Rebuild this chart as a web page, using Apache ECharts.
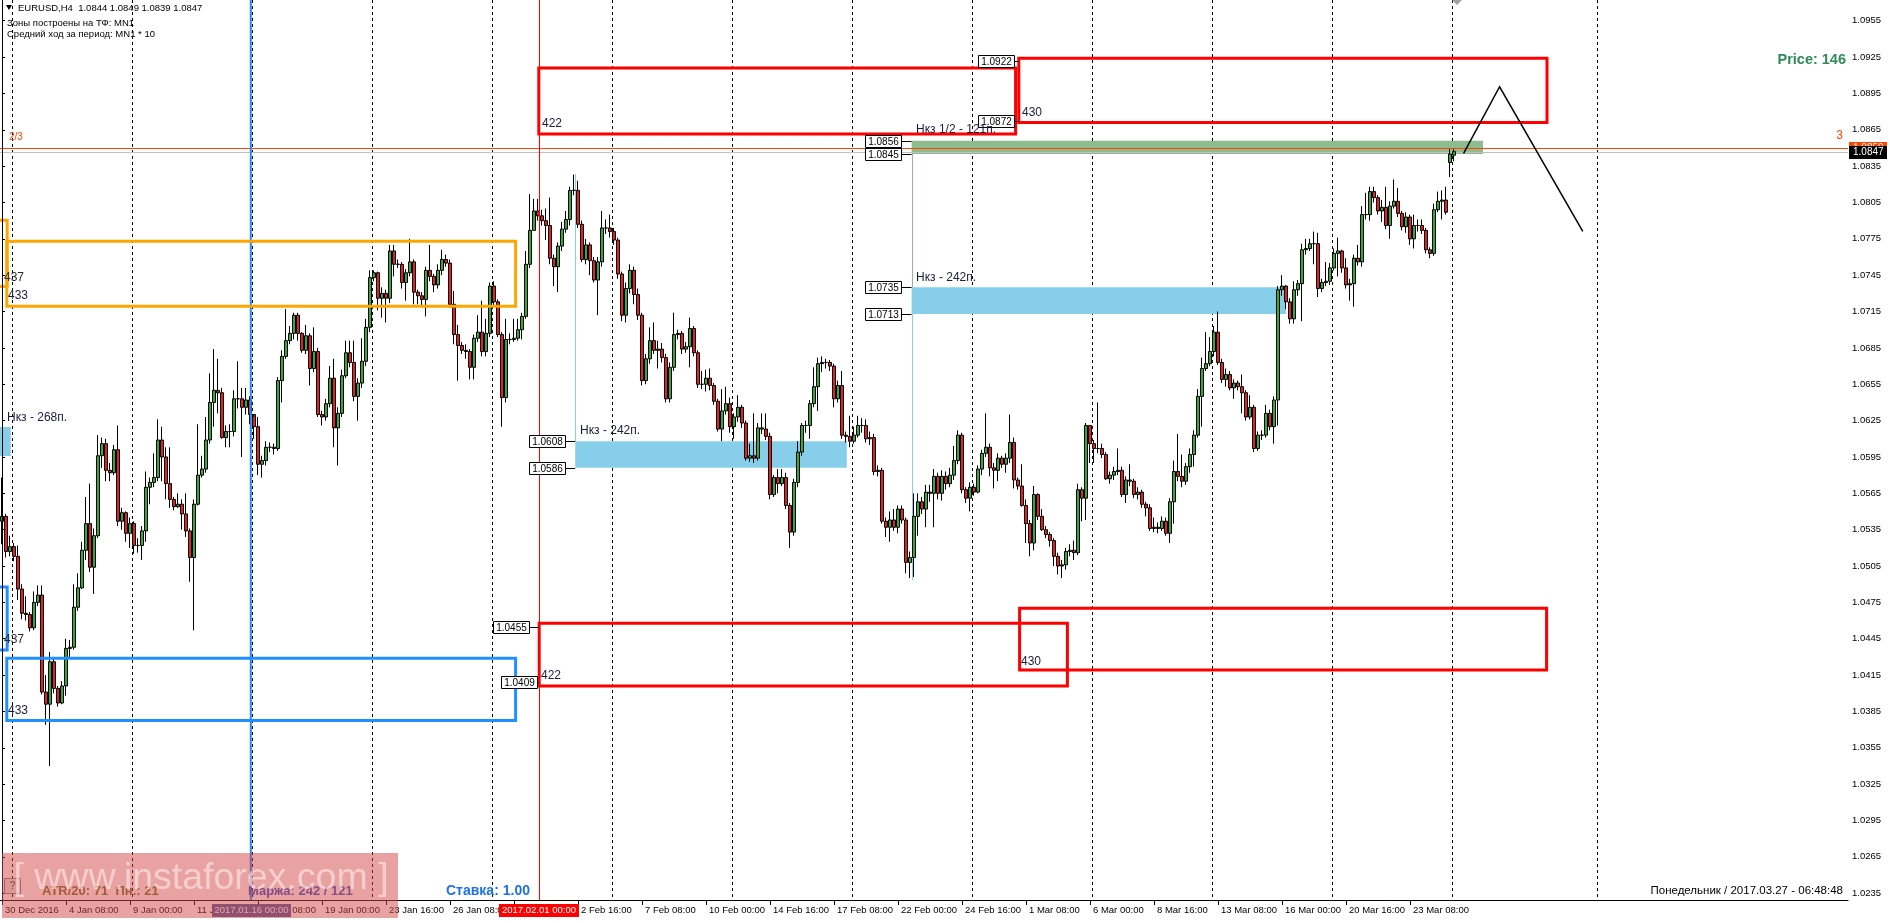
<!DOCTYPE html>
<html><head><meta charset="utf-8">
<script src="https://cdn.jsdelivr.net/npm/echarts@6/dist/echarts.min.js"></script>
<style>html,body{margin:0;padding:0;background:#fff;overflow:hidden}#c{width:1890px;height:923px}</style>
</head><body><div id="c"></div>
<script>
// ---------------- DATA ----------------
const firstOpen = 1.0542;
const openOverrides = [[362, 1.0838], [363, 1.0844]]; // weekend gap / last bar opens
const closes = [
1.0546,1.0517,1.0521,1.0513,1.0486,1.0466,1.0465,1.0454,1.0475,1.0481,
1.0401,1.0391,1.0426,1.0404,1.0392,1.0406,1.0437,1.0438,1.0471,1.0487,
1.0518,1.0540,1.0504,1.0530,1.0596,1.0606,1.0584,1.0582,1.0601,1.0542,
1.0549,1.0532,1.0540,1.0522,1.0522,1.0534,1.0570,1.0574,1.0578,1.0609,
1.0595,1.0573,1.0560,1.0554,1.0556,1.0548,1.0534,1.0512,1.0556,1.0580,
1.0585,1.0609,1.0640,1.0650,1.0648,1.0611,1.0616,1.0616,1.0643,1.0643,
1.0636,1.0642,1.0630,1.0620,1.0589,1.0592,1.0603,1.0603,1.0602,1.0658,
1.0678,1.0691,1.0697,1.0712,1.0697,1.0683,1.0695,1.0668,1.0682,1.0630,
1.0628,1.0639,1.0660,1.0619,1.0631,1.0662,1.0681,1.0673,1.0645,1.0656,
1.0674,1.0702,1.0743,1.0747,1.0726,1.0730,1.0726,1.0765,1.0754,1.0754,
1.0739,1.0747,1.0756,1.0731,1.0728,1.0725,1.0749,1.0744,1.0737,1.0749,
1.0758,1.0755,1.0721,1.0696,1.0687,1.0683,1.0682,1.0669,1.0693,1.0698,
1.0682,1.0697,1.0736,1.0723,1.0696,1.0644,1.0692,1.0692,1.0693,1.0700,
1.0711,1.0754,1.0782,1.0798,1.0794,1.0790,1.0786,1.0759,1.0752,1.0769,
1.0783,1.0791,1.0815,1.0815,1.0787,1.0758,1.0770,1.0757,1.0741,1.0756,
1.0784,1.0784,1.0781,1.0774,1.0746,1.0712,1.0734,1.0749,1.0729,1.0712,
1.0658,1.0676,1.0691,1.0683,1.0684,1.0677,1.0643,1.0669,1.0696,1.0697,
1.0684,1.0686,1.0701,1.0681,1.0655,1.0655,1.0660,1.0654,1.0641,1.0618,
1.0633,1.0639,1.0620,1.0628,1.0636,1.0623,1.0594,1.0596,1.0594,1.0619,
1.0618,1.0612,1.0564,1.0578,1.0573,1.0578,1.0555,1.0533,1.0574,1.0599,
1.0621,1.0621,1.0639,1.0653,1.0672,1.0673,1.0673,1.0670,1.0643,1.0654,
1.0613,1.0612,1.0608,1.0613,1.0621,1.0621,1.0610,1.0611,1.0583,1.0584,
1.0542,1.0537,1.0543,1.0537,1.0552,1.0543,1.0508,1.0512,1.0546,1.0558,
1.0552,1.0566,1.0565,1.0579,1.0565,1.0579,1.0573,1.0580,1.0592,1.0613,
1.0568,1.0561,1.0570,1.0566,1.0585,1.0598,1.0603,1.0586,1.0584,1.0594,
1.0589,1.0594,1.0607,1.0576,1.0571,1.0555,1.0540,1.0524,1.0564,1.0546,
1.0535,1.0531,1.0526,1.0513,1.0505,1.0506,1.0517,1.0518,1.0516,1.0568,
1.0561,1.0621,1.0606,1.0602,1.0602,1.0597,1.0577,1.0580,1.0583,1.0584,
1.0564,1.0576,1.0575,1.0564,1.0566,1.0556,1.0553,1.0536,1.0537,1.0536,
1.0542,1.0532,1.0558,1.0583,1.0579,1.0575,1.0587,1.0597,1.0613,1.0645,
1.0668,1.0672,1.0682,1.0698,1.0673,1.0659,1.0663,1.0652,1.0656,1.0653,
1.0648,1.0628,1.0636,1.0602,1.0613,1.0613,1.0631,1.0620,1.0642,1.0733,
1.0736,1.0723,1.0709,1.0733,1.0738,1.0766,1.0767,1.0771,1.0771,1.0734,
1.0739,1.0740,1.0751,1.0763,1.0765,1.0751,1.0737,1.0738,1.0759,1.0756,
1.0795,1.0795,1.0814,1.0809,1.0798,1.0801,1.0786,1.0802,1.0806,1.0796,
1.0785,1.0793,1.0775,1.0786,1.0786,1.0782,1.0766,1.0763,1.0799,1.0806,
1.0807,1.0797,1.0845,1.0847];
const highs = [
1.0578,1.0548,1.0530,1.0524,1.0522,1.0490,1.0480,1.0467,1.0484,1.0489,
1.0489,1.0415,1.0434,1.0430,1.0406,1.0410,1.0445,1.0444,1.0490,1.0499,
1.0525,1.0562,1.0573,1.0536,1.0613,1.0611,1.0610,1.0590,1.0605,1.0621,
1.0553,1.0550,1.0545,1.0542,1.0528,1.0538,1.0583,1.0578,1.0598,1.0626,
1.0620,1.0603,1.0603,1.0562,1.0565,1.0560,1.0565,1.0536,1.0560,1.0622,
1.0596,1.0628,1.0664,1.0684,1.0676,1.0652,1.0621,1.0622,1.0650,1.0674,
1.0652,1.0652,1.0645,1.0628,1.0628,1.0596,1.0608,1.0607,1.0606,1.0661,
1.0683,1.0717,1.0703,1.0714,1.0714,1.0698,1.0704,1.0697,1.0702,1.0685,
1.0633,1.0643,1.0670,1.0676,1.0636,1.0667,1.0691,1.0691,1.0691,1.0660,
1.0693,1.0709,1.0749,1.0749,1.0748,1.0735,1.0733,1.0770,1.0770,1.0758,
1.0756,1.0750,1.0775,1.0758,1.0733,1.0731,1.0752,1.0770,1.0746,1.0754,
1.0766,1.0762,1.0758,1.0732,1.0704,1.0690,1.0688,1.0684,1.0696,1.0712,
1.0724,1.0709,1.0739,1.0740,1.0725,1.0698,1.0709,1.0697,1.0709,1.0709,
1.0714,1.0765,1.0812,1.0808,1.0808,1.0799,1.0800,1.0809,1.0762,1.0772,
1.0789,1.0798,1.0818,1.0828,1.0823,1.0790,1.0775,1.0772,1.0760,1.0760,
1.0798,1.0791,1.0795,1.0784,1.0776,1.0748,1.0739,1.0754,1.0752,1.0734,
1.0714,1.0680,1.0702,1.0706,1.0691,1.0689,1.0680,1.0673,1.0714,1.0700,
1.0699,1.0690,1.0710,1.0703,1.0683,1.0666,1.0667,1.0668,1.0656,1.0643,
1.0651,1.0653,1.0644,1.0631,1.0646,1.0638,1.0625,1.0606,1.0631,1.0623,
1.0631,1.0631,1.0615,1.0580,1.0585,1.0585,1.0582,1.0557,1.0577,1.0608,
1.0623,1.0625,1.0642,1.0669,1.0677,1.0678,1.0676,1.0675,1.0672,1.0658,
1.0666,1.0616,1.0629,1.0620,1.0629,1.0627,1.0626,1.0616,1.0614,1.0588,
1.0586,1.0545,1.0550,1.0552,1.0555,1.0555,1.0545,1.0517,1.0565,1.0565,
1.0562,1.0572,1.0572,1.0585,1.0582,1.0584,1.0583,1.0586,1.0604,1.0617,
1.0615,1.0570,1.0574,1.0573,1.0588,1.0601,1.0631,1.0606,1.0590,1.0598,
1.0596,1.0598,1.0630,1.0611,1.0578,1.0589,1.0560,1.0543,1.0571,1.0565,
1.0552,1.0538,1.0533,1.0528,1.0516,1.0510,1.0520,1.0523,1.0526,1.0573,
1.0570,1.0623,1.0621,1.0609,1.0640,1.0606,1.0599,1.0583,1.0587,1.0602,
1.0587,1.0579,1.0589,1.0577,1.0570,1.0568,1.0558,1.0556,1.0545,1.0541,
1.0546,1.0545,1.0561,1.0592,1.0614,1.0597,1.0590,1.0602,1.0617,1.0651,
1.0677,1.0698,1.0694,1.0703,1.0715,1.0676,1.0668,1.0666,1.0659,1.0658,
1.0663,1.0650,1.0646,1.0638,1.0616,1.0617,1.0638,1.0634,1.0645,1.0736,
1.0745,1.0737,1.0726,1.0740,1.0741,1.0771,1.0775,1.0775,1.0781,1.0780,
1.0742,1.0756,1.0755,1.0767,1.0776,1.0766,1.0759,1.0742,1.0762,1.0770,
1.0802,1.0813,1.0818,1.0818,1.0811,1.0807,1.0818,1.0806,1.0824,1.0817,
1.0798,1.0797,1.0795,1.0795,1.0791,1.0791,1.0784,1.0768,1.0804,1.0814,
1.0815,1.0818,1.0849,1.0849];
const lows = [
1.0523,1.0512,1.0513,1.0509,1.0477,1.0461,1.0460,1.0451,1.0452,1.0472,
1.0399,1.0374,1.0340,1.0400,1.0389,1.0391,1.0398,1.0429,1.0436,1.0468,
1.0486,1.0510,1.0500,1.0482,1.0528,1.0586,1.0575,1.0575,1.0580,1.0538,
1.0535,1.0525,1.0520,1.0515,1.0516,1.0510,1.0525,1.0556,1.0570,1.0575,
1.0575,1.0560,1.0553,1.0551,1.0553,1.0535,1.0529,1.0492,1.0452,1.0555,
1.0578,1.0582,1.0606,1.0620,1.0631,1.0610,1.0603,1.0603,1.0612,1.0635,
1.0595,1.0630,1.0622,1.0610,1.0580,1.0578,1.0588,1.0599,1.0597,1.0600,
1.0640,1.0676,1.0688,1.0692,1.0691,1.0681,1.0680,1.0654,1.0665,1.0628,
1.0621,1.0625,1.0636,1.0603,1.0588,1.0628,1.0660,1.0669,1.0641,1.0625,
1.0652,1.0670,1.0698,1.0740,1.0716,1.0710,1.0706,1.0722,1.0744,1.0751,
1.0734,1.0724,1.0744,1.0721,1.0721,1.0720,1.0711,1.0740,1.0731,1.0734,
1.0745,1.0752,1.0718,1.0688,1.0658,1.0680,1.0676,1.0659,1.0659,1.0690,
1.0678,1.0678,1.0694,1.0720,1.0694,1.0620,1.0640,1.0688,1.0690,1.0691,
1.0692,1.0709,1.0751,1.0782,1.0790,1.0786,1.0774,1.0754,1.0736,1.0731,
1.0765,1.0780,1.0786,1.0811,1.0784,1.0756,1.0754,1.0745,1.0739,1.0712,
1.0752,1.0779,1.0776,1.0770,1.0742,1.0707,1.0706,1.0730,1.0721,1.0708,
1.0654,1.0655,1.0672,1.0680,1.0668,1.0673,1.0640,1.0640,1.0666,1.0692,
1.0680,1.0681,1.0669,1.0678,1.0652,1.0651,1.0649,1.0650,1.0638,1.0616,
1.0608,1.0630,1.0615,1.0610,1.0624,1.0619,1.0592,1.0591,1.0590,1.0592,
1.0614,1.0609,1.0560,1.0562,1.0565,1.0571,1.0552,1.0520,1.0530,1.0570,
1.0596,1.0615,1.0610,1.0636,1.0633,1.0665,1.0668,1.0666,1.0636,1.0640,
1.0610,1.0607,1.0603,1.0606,1.0611,1.0615,1.0607,1.0605,1.0580,1.0579,
1.0540,1.0529,1.0525,1.0534,1.0532,1.0540,1.0499,1.0495,1.0496,1.0530,
1.0548,1.0537,1.0558,1.0537,1.0560,1.0559,1.0568,1.0570,1.0576,1.0589,
1.0565,1.0557,1.0550,1.0563,1.0565,1.0580,1.0595,1.0579,1.0569,1.0575,
1.0586,1.0582,1.0590,1.0569,1.0568,1.0554,1.0524,1.0513,1.0518,1.0543,
1.0534,1.0528,1.0521,1.0505,1.0498,1.0495,1.0502,1.0513,1.0510,1.0514,
1.0542,1.0543,1.0590,1.0590,1.0598,1.0594,1.0576,1.0573,1.0576,1.0580,
1.0562,1.0557,1.0571,1.0561,1.0560,1.0553,1.0546,1.0534,1.0533,1.0532,
1.0534,1.0530,1.0524,1.0540,1.0575,1.0570,1.0572,1.0582,1.0587,1.0611,
1.0620,1.0666,1.0670,1.0678,1.0671,1.0656,1.0653,1.0650,1.0643,1.0650,
1.0631,1.0625,1.0626,1.0599,1.0600,1.0609,1.0611,1.0617,1.0606,1.0621,
1.0728,1.0717,1.0705,1.0705,1.0728,1.0707,1.0762,1.0765,1.0754,1.0727,
1.0731,1.0736,1.0737,1.0749,1.0744,1.0747,1.0734,1.0724,1.0719,1.0753,
1.0752,1.0791,1.0790,1.0805,1.0795,1.0789,1.0783,1.0775,1.0800,1.0793,
1.0782,1.0780,1.0770,1.0767,1.0781,1.0779,1.0763,1.0759,1.0761,1.0797,
1.0791,1.0795,1.0826,1.0839];

// time-scale labels, one every 16 H4 bars starting at bar 0
const xLabels = ['30 Dec 2016','4 Jan 08:00','9 Jan 00:00','11 Jan 16:00','16 Jan 08:00','19 Jan 00:00',
 '23 Jan 16:00','26 Jan 08:00','31 Jan 00:00','2 Feb 16:00','7 Feb 08:00','10 Feb 00:00','14 Feb 16:00',
 '17 Feb 08:00','22 Feb 00:00','24 Feb 16:00','1 Mar 08:00','6 Mar 00:00','8 Mar 16:00','13 Mar 08:00',
 '16 Mar 00:00','20 Mar 16:00','23 Mar 08:00'];
const yTicks = [1.0235,1.0265,1.0295,1.0325,1.0355,1.0385,1.0415,1.0445,1.0475,1.0505,1.0535,1.0565,
 1.0595,1.0625,1.0655,1.0685,1.0715,1.0745,1.0775,1.0805,1.0835,1.0865,1.0895,1.0925,1.0955];
const totalSlots = 462;

// zones: [barFrom, barTo, priceTop, priceBottom]
const redZones = [[134.2,253.4,1.0916,1.08615],[254.2,386.25,1.0924,1.0871],[134.3,266.35,1.04578,1.0406],[254.4,386.15,1.04701,1.04192]];
const orangeZones = [[1.2,128.4,1.07731,1.07193],[-6,1.3,1.07903,1.07356]];
const blueZones = [[1.2,128.4,1.0429,1.03776],[-6,1.3,1.04877,1.04357]];
const skyZones = [[143.3,211.2,1.0608,1.0586],[227.4,321.0,1.0735,1.0713],[-6,2.2,1.06198,1.05958]];
const greenZones = [[227.4,370.25,1.0856,1.0845]];
// thin connectors: [bar, priceFrom, priceTo]
const skyConnectors = [[143.3,1.0608,1.08285],[227.4,1.0713,1.04935]];
const greenConnectors = [[227.4,1.0845,1.0735]];
// price labels: [rightBar, price, connectToBar]
const priceTags = [[253.0,1.0922,254.2],[253.0,1.0872,254.2],[224.75,1.0856,227.4],[224.75,1.0845,227.4],
 [224.75,1.0735,227.4],[224.75,1.0713,227.4],[140.75,1.0608,143.3],[140.75,1.0586,143.3],
 [131.75,1.0455,134.25],[133.75,1.0409,134.25]];
const weekLines = [2.4,32.4,62.4,92.4,122.4,152.4,182.4,212.4,242.4,272.4,302.4,332.4,362.4,398.75];
const markerBlue = [62.2];   // 2017.01.16 00:00
const markerRed = [134.25];  // 2017.02.01 00:00
const levelOrange = [1.0850];
const levelBid = [1.0847];
const zigzag = [[365.4,1.08456],[374.4,1.09005],[395.2,1.07811]];

// ---------------- BUILD ----------------
const FONT = '"Liberation Sans", Arial, sans-serif';
const ohlc = closes.map((c, i) => {
  let o = i === 0 ? firstOpen : closes[i - 1];
  openOverrides.forEach(p => { if (p[0] === i) o = p[1]; });
  return [o, c, lows[i], highs[i]];
});
const cats = Array.from({length: totalSlots}, (_, i) => String(i));
const showLabel = idx => idx % 16 === 0 && idx / 16 < xLabels.length;

function clipOf(params){ const c = params.coordSys; return {type:'rect', shape:{x:c.x,y:c.y,width:c.width,height:c.height}}; }
function boxSeries(data, style, z){
  return {type:'custom', xAxisIndex:1, yAxisIndex:0, z, silent:true, data,
    renderItem(params, api){
      const a = api.coord([api.value(0), api.value(2)]);
      const b = api.coord([api.value(1), api.value(3)]);
      return {type:'rect', shape:{x:Math.min(a[0],b[0]), y:Math.min(a[1],b[1]), width:Math.abs(b[0]-a[0]), height:Math.abs(b[1]-a[1])},
        style, clipPath: clipOf(params)};
    }};
}
function vSegSeries(data, style, z){
  return {type:'custom', xAxisIndex:1, yAxisIndex:0, z, silent:true, data,
    renderItem(params, api){
      const a = api.coord([api.value(0), api.value(1)]);
      const b = api.coord([api.value(0), api.value(2)]);
      const x = Math.round(a[0]) + 0.5;
      return {type:'line', shape:{x1:x, y1:a[1], x2:x, y2:b[1]}, style};
    }};
}
function vFullSeries(data, style, z, snap){
  return {type:'custom', xAxisIndex:1, yAxisIndex:0, z, silent:true, data: data.map(v => [v]),
    renderItem(params, api){
      const c = params.coordSys;
      let x = api.coord([api.value(0), 1.05])[0];
      if (snap) x = Math.round(x) + 0.5;
      return {type:'line', shape:{x1:x, y1:c.y, x2:x, y2:c.y + c.height}, style};
    }};
}
function hFullSeries(data, style, z){
  return {type:'custom', xAxisIndex:1, yAxisIndex:0, z, silent:true, data: data.map(v => [0, v]),
    renderItem(params, api){
      const c = params.coordSys;
      const y = Math.round(api.coord([0, api.value(1)])[1]) + 0.5;
      return {type:'line', shape:{x1:c.x, y1:y, x2:c.x + c.width, y2:y}, style};
    }};
}

const series = [
  {type:'candlestick', xAxisIndex:0, yAxisIndex:0, z:5, data: ohlc, barWidth:3, silent:true,
   itemStyle:{color:'#2fae2f', color0:'#ee1c1c', borderColor:'#000', borderColor0:'#000', borderWidth:1}},
  vFullSeries(weekLines, {stroke:'#000', lineWidth:1, lineDash:[3,3]}, 1, true),
  boxSeries(skyZones, {fill:'#87ceeb'}, 2),
  boxSeries(greenZones, {fill:'#8fbc8f'}, 2),
  vSegSeries(skyConnectors, {stroke:'#87ceeb', lineWidth:1}, 2),
  vSegSeries(greenConnectors, {stroke:'#8fbc8f', lineWidth:1}, 2),
  hFullSeries(levelBid, {stroke:'#c0c0c0', lineWidth:1}, 3),
  hFullSeries(levelOrange, {stroke:'#ff4500', lineWidth:1}, 6),
  vFullSeries(markerBlue, {stroke:'#1e88ff', lineWidth:2}, 6, false),
  vFullSeries(markerRed, {stroke:'#ff0000', lineWidth:1}, 6, true),
  boxSeries(orangeZones, {fill:'transparent', stroke:'#ffa500', lineWidth:3}, 7),
  boxSeries(blueZones, {fill:'transparent', stroke:'#1e90ff', lineWidth:3}, 7),
  boxSeries(redZones, {fill:'transparent', stroke:'#ff0000', lineWidth:3}, 7),
  {type:'custom', xAxisIndex:1, yAxisIndex:0, z:8, silent:true, data:[0],
   renderItem(params, api){
     const pts = zigzag.map(p => api.coord(p));
     return {type:'polyline', shape:{points:pts}, style:{stroke:'#000', lineWidth:1.5, fill:null}};
   }},
  {type:'custom', xAxisIndex:1, yAxisIndex:0, z:9, silent:true, data: priceTags,
   renderItem(params, api){
     const r = api.coord([api.value(0), api.value(1)]);
     const t = api.coord([api.value(2), api.value(1)]);
     const y = Math.round(r[1]) + 0.5, xr = Math.round(r[0]) + 0.5, w = 36, h = 12;
     return {type:'group', children:[
       {type:'line', shape:{x1:xr, y1:y, x2:t[0], y2:y}, style:{stroke:'#000', lineWidth:1}},
       {type:'rect', shape:{x:xr - w, y:y - h/2, width:w, height:h}, style:{fill:'#fff', stroke:'#000', lineWidth:1}},
       {type:'text', x:xr - w/2, y:y + 0.5, style:{text: api.value(1).toFixed(4), fill:'#000', font:'10px ' + FONT,
         align:'center', verticalAlign:'middle', textAlign:'center', textVerticalAlign:'middle'}}
     ]};
   }},
  // current price tags on the price scale
  {type:'custom', xAxisIndex:1, yAxisIndex:0, z:20, silent:true, clip:false,
   data: [[levelOrange[0], 0], [levelBid[0], 1]],
   renderItem(params, api){
     const c = params.coordSys;
     const y = Math.round(api.coord([0, api.value(0)])[1]);
     const bg = api.value(1) ? '#000' : '#ff4500';
     const x0 = c.x + c.width + 1;
     return {type:'group', children:[
       {type:'rect', shape:{x:x0, y:y - 6, width:38, height:13}, style:{fill:bg}},
       {type:'text', x:x0 + 4, y:y + 0.5, style:{text: api.value(0).toFixed(4), fill:'#fff', font:'10px ' + FONT,
         align:'left', verticalAlign:'middle', textAlign:'left', textVerticalAlign:'middle'}}
     ]};
   }}
];

function T(x, y, text, font, fill, align){
  return {type:'text', x, y, z:50, silent:true, style:{text, font: font + ' ' + FONT, fill: fill || '#000',
    align: align || 'left', verticalAlign:'middle', textAlign: align || 'left', textVerticalAlign:'middle'}};
}
const graphics = [
  {type:'line', z:50, shape:{x1:2.5, y1:0, x2:2.5, y2:900}, style:{stroke:'#000', lineWidth:1}},
  {type:'polygon', z:50, shape:{points:[[6,5],[12,5],[9,10]]}, style:{fill:'#000'}},
  {type:'polygon', z:50, shape:{points:[[1452,0],[1462,0],[1457,5]]}, style:{fill:'#a0a0a0'}},
  T(18, 8, 'EURUSD,H4  1.0844 1.0849 1.0839 1.0847', '9.5px'),
  T(7, 23, 'Зоны построены на ТФ: MN1', '9.5px'),
  T(7, 34, 'Средний ход за период: MN1 * 10', '9.5px'),
  T(9, 137, '2/3', '10px', '#ff4500'),
  T(1843, 136, '3', '12px', '#ff4500', 'right'),
  T(1846, 60, 'Price: 146', 'bold 14.5px', '#2e8b57', 'right'),
  T(4, 278, '437', '12px', '#2a2a2a'),
  T(8, 296, '433', '12px', '#1a1a40'),
  T(4, 640, '437', '12px', '#2a2a2a'),
  T(8, 711, '433', '12px', '#1a1a40'),
  T(7, 418, 'Нкз - 268п.', '12px', '#1a1a40'),
  T(580, 431, 'Нкз - 242п.', '12px', '#1a1a40'),
  T(916, 278, 'Нкз - 242п.', '12px', '#1a1a40'),
  T(916, 130, 'Нкз 1/2 - 121п.', '12px', '#1a1a40'),
  T(542, 124, '422', '12px', '#1a1a40'),
  T(1022, 113, '430', '12px', '#1a1a40'),
  T(541, 676, '422', '12px', '#1a1a40'),
  T(1021, 662, '430', '12px', '#1a1a40'),
  T(1843, 891, 'Понедельник / 2017.03.27 - 06:48:48', '11.5px', '#000', 'right'),
  // x-scale markers
  {type:'rect', z:50, shape:{x:212, y:904, width:79, height:13}, style:{fill:'#4d5b9e'}},
  T(251.5, 910.5, '2017.01.16 00:00', '9.5px', '#fff', 'center'),
  {type:'rect', z:50, shape:{x:499, y:904, width:80, height:13}, style:{fill:'#ff0000'}},
  T(539, 910.5, '2017.02.01 00:00', '9.5px', '#fff', 'center'),
  // info panel
  {type:'rect', z:50, shape:{x:4.5, y:878.5, width:16, height:15}, style:{fill:'#e8e8e8', stroke:'#808080', lineWidth:1}},
  T(12.5, 886, '?', '10px', '#333', 'center'),
  T(42, 891, 'ATR/20: 71  Пн.: 21', 'bold 13px', '#7a6e2a'),
  T(248, 891, 'Маржа: 242 / 121', 'bold 13px', '#3552c4'),
  T(446, 891, 'Ставка: 1.00', 'bold 14px', '#1e72e8'),
  // watermark
  {type:'rect', z:100, shape:{x:2, y:853, width:396, height:65}, style:{fill:'rgba(210,70,70,0.5)'}},
  {type:'text', x:201, y:879, z:101, silent:true, style:{text:'[ www.instaforex.com ]', font:'37.5px ' + FONT,
    fill:'rgba(255,235,235,0.6)', align:'center', verticalAlign:'middle', textAlign:'center', textVerticalAlign:'middle'}}
];

const option = {
  animation:false,
  backgroundColor:'#fff',
  grid:{left:0, top:0, width:1848, height:900, containLabel:false},
  xAxis:[
    {type:'category', data:cats, boundaryGap:true,
     axisLine:{show:true, lineStyle:{color:'#000', width:1}},
     axisTick:{show:true, interval:(i)=>showLabel(i), alignWithLabel:true, length:5, lineStyle:{color:'#000'}},
     axisLabel:{interval:(i)=>showLabel(i), formatter:(v, i)=> showLabel(i) ? xLabels[i/16] : '',
       align:'left', padding:[0,0,0,3], margin:5, color:'#000', fontSize:9.5, fontFamily:FONT},
     splitLine:{show:false}},
    {type:'value', min:-0.5, max:totalSlots - 0.5, show:false, splitLine:{show:false}}
  ],
  yAxis:[{type:'value', position:'right', min:1.02294, max:1.09721, scale:true,
    splitLine:{show:false},
    axisLine:{show:true, lineStyle:{color:'#000', width:1}},
    axisTick:{show:true, customValues:yTicks, length:3, lineStyle:{color:'#000'}},
    axisLabel:{customValues:yTicks, formatter:(v)=>Number(v).toFixed(4), color:'#000', fontSize:9.5, margin:4, fontFamily:FONT}}],
  series,
  graphic: graphics
};
const chart = echarts.init(document.getElementById('c'), null, {renderer:'canvas', width:1890, height:923});
chart.setOption(option);
</script>
</body></html>
